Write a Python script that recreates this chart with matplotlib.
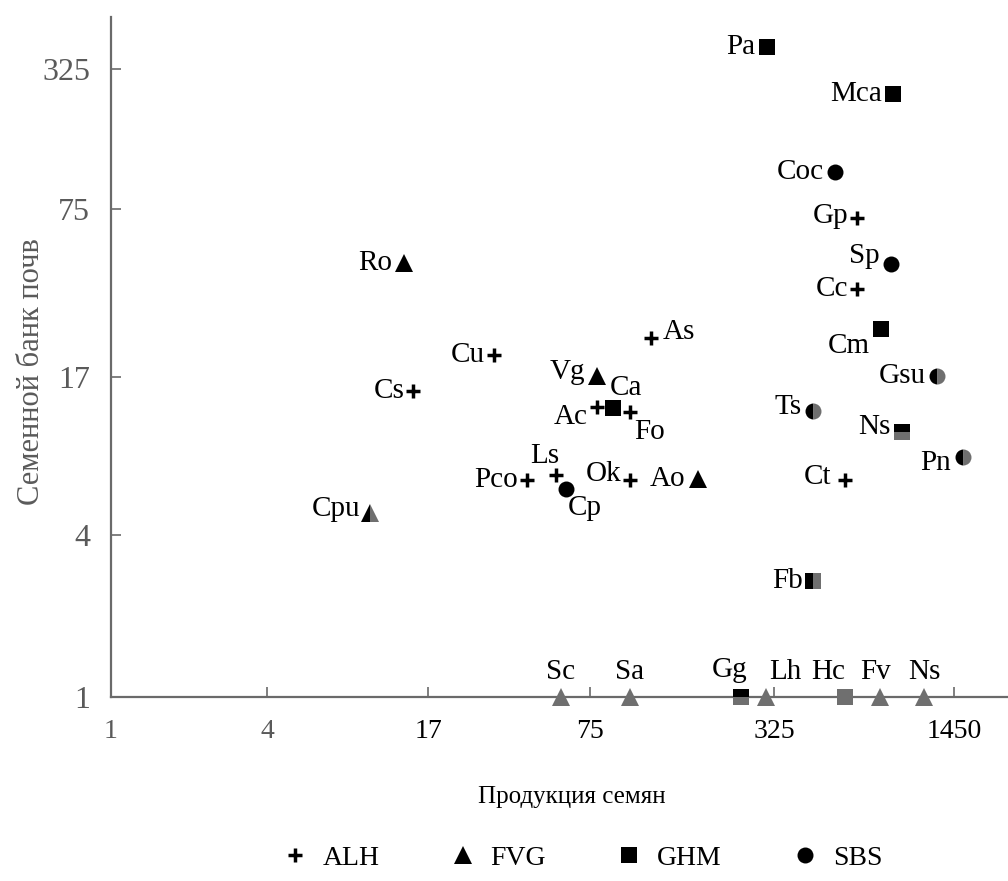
import numpy as np
import matplotlib
matplotlib.use("Agg")
import matplotlib.pyplot as plt
from matplotlib.lines import Line2D

# ---------------- data ----------------
tick_vals_x = [1, 4, 17, 75, 325, 1450]
tick_vals_y = [1, 4, 17, 75, 325]

alh_names = ["Gp", "Cc", "As", "Cu", "Cs", "Ac", "Fo", "Ls", "Pco", "Ok", "Ct"]
alh_x = [648, 648, 122, 31, 14.9, 79, 103, 55, 42, 103, 586]
alh_y = [69, 37, 24, 20.6, 15, 12.9, 12.3, 6.9, 6.6, 6.6, 6.6]
alh_tone = ["black"] * 11

fvg_names = ["Ro", "Vg", "Ao", "Cpu", "Sc", "Sa", "Lh", "Fv", "Ns"]
fvg_x = [13.7, 79, 177, 10.1, 57.5, 103, 305, 784, 1130]
fvg_y = [46.5, 17.2, 6.7, 4.9, 1, 1, 1, 1, 1]
fvg_tone = ["black", "black", "black", "left", "gray", "gray", "gray", "gray", "gray"]

ghm_names = ["Pa", "Mca", "Cm", "Ca", "Ns", "Fb", "Gg", "Hc"]
ghm_x = [307, 873, 790, 90, 940, 449, 250, 586]
ghm_y = [410, 250, 26, 12.8, 10.3, 2.7, 1, 1]
ghm_tone = ["black", "black", "black", "black", "top", "left", "top", "gray"]

sbs_names = ["Coc", "Sp", "Gsu", "Ts", "Pn", "Cp"]
sbs_x = [540, 859, 1260, 449, 1560, 60]
sbs_y = [110, 46, 17.1, 12.4, 8.2, 6.1]
sbs_tone = ["black", "black", "left", "left", "left", "black"]

group_labels = ["ALH", "FVG", "GHM", "SBS"]

# ---------------- styling ----------------
FIG_W, FIG_H = 1008, 881
GRAY = "#6f6f6f"
AX_GRAY = "#6a6a6a"
FONT = ["Liberation Serif", "DejaVu Serif"]

# pixel anchors of the (hand-drawn) axis ticks
px_x = [111, 267, 428, 590, 774, 954]
px_y = [0, 162, 320, 488, 628]  # measured upward from the x axis


def make_scale(vals, pix):
    lv = np.log10(np.asarray(vals, float))
    pix = np.asarray(pix, float)
    s0 = (pix[1] - pix[0]) / (lv[1] - lv[0])
    s1 = (pix[-1] - pix[-2]) / (lv[-1] - lv[-2])
    L = np.concatenate([[lv[0] - 30], lv, [lv[-1] + 30]])
    P = np.concatenate([[pix[0] - 30 * s0], pix, [pix[-1] + 30 * s1]])

    def fwd(v):
        v = np.asarray(v, float)
        with np.errstate(divide="ignore", invalid="ignore"):
            l = np.log10(np.where(v > 0, v, 1e-300))
        return np.interp(l, L, P)

    def inv(p):
        return 10 ** np.interp(np.asarray(p, float), P, L)

    return fwd, inv


fx, ix = make_scale(tick_vals_x, px_x)
fy, iy = make_scale(tick_vals_y, px_y)

plt.rcParams["font.family"] = FONT

fig = plt.figure(figsize=(FIG_W / 100, FIG_H / 100), dpi=100)
left = 111 / FIG_W
bottom = 1 - 697 / FIG_H
top = 1 - 17 / FIG_H
ax = fig.add_axes([left, bottom, 1 - left, top - bottom])
ax.set_xscale("function", functions=(fx, ix))
ax.set_yscale("function", functions=(fy, iy))
ax.set_xlim(1, ix(1008))
ax.set_ylim(1, iy(680))

for s in ["top", "right"]:
    ax.spines[s].set_visible(False)
for s in ["left", "bottom"]:
    ax.spines[s].set_color(AX_GRAY)
    ax.spines[s].set_linewidth(1.6)

ax.set_xticks(tick_vals_x)
ax.set_xticklabels([str(v) for v in tick_vals_x])
ax.set_yticks(tick_vals_y)
ax.set_yticklabels([str(v) for v in tick_vals_y])
ax.minorticks_off()
ax.tick_params(axis="x", direction="in", length=7, width=1.2, color=AX_GRAY,
               pad=16, labelsize=20)
ax.tick_params(axis="y", direction="in", length=7, width=1.2, color=AX_GRAY,
               pad=15, labelsize=23, labelcolor="#5a5a5a")
for i, t in enumerate(ax.get_xticklabels()):
    t.set_color("#5a5a5a" if i < 2 else "black")

label_off = {
    ("ALH", "Gp"): (-9, 2, "right"), ("ALH", "Cc"): (-9, 0, "right"),
    ("ALH", "As"): (12, 6, "left"), ("ALH", "Cu"): (-9, 0, "right"),
    ("ALH", "Cs"): (-9, 0, "right"), ("ALH", "Ac"): (-9, -10, "right"),
    ("ALH", "Fo"): (4, -20, "left"), ("ALH", "Ls"): (-11, 19, "center"),
    ("ALH", "Pco"): (-9, 0, "right"), ("ALH", "Ok"): (-8, 6, "right"),
    ("ALH", "Ct"): (-14, 3, "right"),
    ("FVG", "Ro"): (-12, 0, "right"), ("FVG", "Vg"): (-11, 4, "right"),
    ("FVG", "Ao"): (-12, 0, "right"), ("FVG", "Cpu"): (-10, 4, "right"),
    ("FVG", "Sc"): (0, 25, "center"), ("FVG", "Sa"): (0, 25, "center"),
    ("FVG", "Lh"): (19, 25, "center"), ("FVG", "Fv"): (-4, 25, "center"),
    ("FVG", "Ns"): (0, 25, "center"),
    ("GHM", "Pa"): (-12, 0, "right"), ("GHM", "Mca"): (-11, 0, "right"),
    ("GHM", "Cm"): (-11, -17, "right"), ("GHM", "Ca"): (13, 20, "center"),
    ("GHM", "Ns"): (-11, 5, "right"), ("GHM", "Fb"): (-10, 0, "right"),
    ("GHM", "Gg"): (-12, 27, "center"), ("GHM", "Hc"): (-17, 25, "center"),
    ("SBS", "Coc"): (-11, 0, "right"), ("SBS", "Sp"): (-11, 8, "right"),
    ("SBS", "Gsu"): (-11, 0, "right"), ("SBS", "Ts"): (-11, 4, "right"),
    ("SBS", "Pn"): (-12, -6, "right"), ("SBS", "Cp"): (2, -19, "left"),
}

groups = [
    ("ALH", "+", 10, alh_names, alh_x, alh_y, alh_tone),
    ("FVG", "^", 13, fvg_names, fvg_x, fvg_y, fvg_tone),
    ("GHM", "s", 12, ghm_names, ghm_x, ghm_y, ghm_tone),
    ("SBS", "o", 11.5, sbs_names, sbs_x, sbs_y, sbs_tone),
]

for g, mk, ms, names, xs, ys, tones in groups:
    for n, x, y, tone in zip(names, xs, ys, tones):
        if mk == "+":
            ax.plot([x], [y], marker="+", ms=ms, mew=2.5, color="black",
                    ls="none", clip_on=False, zorder=5)
        else:
            if tone in ("black", "gray"):
                c = "black" if tone == "black" else GRAY
                ax.plot([x], [y], marker=mk, ms=ms, mew=0, mfc=c,
                        ls="none", clip_on=False, zorder=5)
            else:
                ax.plot([x], [y], marker=mk, ms=ms, mew=0, mfc="black",
                        mfcalt=GRAY, fillstyle=tone, ls="none",
                        clip_on=False, zorder=5)
        dx, dy, ha = label_off[(g, n)]
        ax.annotate(n, (x, y), xytext=(dx, dy), textcoords="offset pixels",
                    ha=ha, va="center", fontsize=21, color="black",
                    annotation_clip=False, zorder=6)

fig.text(572 / FIG_W, 1 - 797 / FIG_H, "Продукция семян", ha="center",
         va="center", fontsize=18, color="black")
fig.text(32 / FIG_W, 1 - 372 / FIG_H, "Семенной банк почв", ha="center",
         va="center", rotation=90, fontsize=22, color="#5a5a5a")

handles = [
    Line2D([], [], marker="+", ms=10, mew=2.5, color="black", ls="none"),
    Line2D([], [], marker="^", ms=13, mew=0, mfc="black", ls="none"),
    Line2D([], [], marker="s", ms=12, mew=0, mfc="black", ls="none"),
    Line2D([], [], marker="o", ms=11.5, mew=0, mfc="black", ls="none"),
]
fig.legend(handles, group_labels, loc="center",
           bbox_to_anchor=(583 / FIG_W, 1 - 858 / FIG_H), ncol=4,
           frameon=False, fontsize=20, handlelength=0.8, handletextpad=0.6,
           columnspacing=2.6)

fig.savefig("out.png", dpi=100)
